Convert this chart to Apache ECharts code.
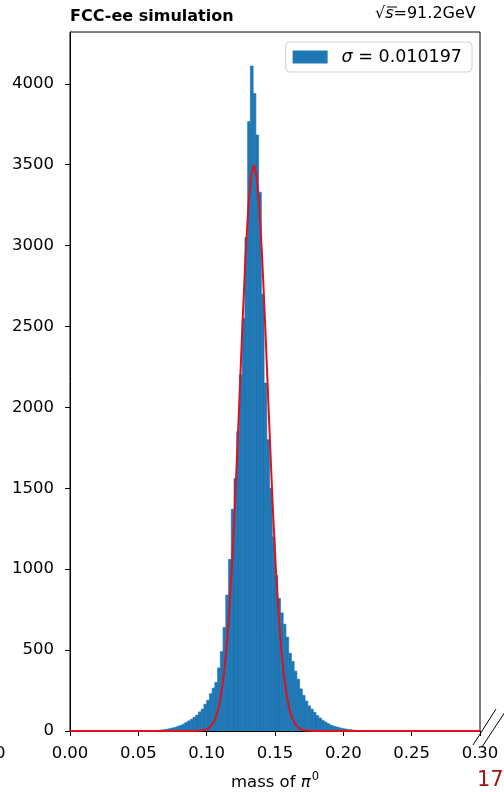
<!DOCTYPE html>
<html><head><meta charset="utf-8">
<script src="https://cdn.jsdelivr.net/npm/echarts@6/dist/echarts.min.js"></script>
<style>html,body{margin:0;padding:0;background:#fff}#c{width:504px;height:792px}</style>
</head><body><div id="c"></div>
<script>
// histogram bins (start of each bin) and counts
const binWidth = 0.002;
const binStarts = [0.060,0.062,0.064,0.066,0.068,0.070,0.072,0.074,0.076,0.078,
  0.080,0.082,0.084,0.086,0.088,0.090,0.092,0.094,0.096,0.098,
  0.100,0.102,0.104,0.106,0.108,0.110,0.112,0.114,0.116,0.118,
  0.120,0.122,0.124,0.126,0.128,0.130,0.132,0.134,0.136,0.138,
  0.140,0.142,0.144,0.146,0.148,0.150,0.152,0.154,0.156,0.158,
  0.160,0.162,0.164,0.166,0.168,0.170,0.172,0.174,0.176,0.178,
  0.180,0.182,0.184,0.186,0.188,0.190,0.192,0.194,0.196,0.198,
  0.200,0.202,0.204,0.206,0.208,0.210,0.212];
const binCounts = [2,3,4,6,8,11,14,18,22,28,
  34,42,52,62,72,85,98,118,135,165,
  190,230,265,300,390,490,640,840,1060,1370,
  1560,1850,2200,2550,3050,3766,4110,3940,3683,3330,
  2700,2150,1800,1500,1200,960,820,730,660,580,
  480,430,370,320,260,220,185,155,135,115,
  95,80,65,55,45,36,30,25,20,16,
  13,10,8,6,4,3,2];
// fitted curve points
const fitX = [0.000,0.0905,0.0925,0.0945,0.0965,0.0985,0.1005,0.1025,0.1045,0.1065,0.1085,
  0.1105,0.1125,0.1145,0.1165,0.1185,0.1205,0.1225,0.1245,0.1265,0.1285,0.1305,0.1325,
  0.1345,0.1365,0.1385,0.1405,0.1425,0.1445,0.1465,0.1485,0.1505,0.1525,0.1545,0.1565,
  0.1585,0.1605,0.1625,0.1645,0.1665,0.1685,0.1705,0.1725,0.1745,0.1765,0.1785,0.300];
const fitY = [0,0,1,2,3,7,13,25,46,81,136,
  219,342,511,737,1022,1364,1752,2164,2572,2943,3241,3433,
  3500,3433,3241,2943,2572,2164,1752,1364,1022,737,511,342,
  219,136,81,46,25,13,7,3,2,1,0,0];
const xTicks = [0,0.05,0.10,0.15,0.20,0.25,0.30];
const yTicks = [0,500,1000,1500,2000,2500,3000,3500,4000];
const histName = 'sigma';
const sigmaText = '0.010197';
const titleLeft = 'FCC-ee simulation';
const titleRight = '=91.2GeV';
const xName = 'mass of ';

const chart = echarts.init(document.getElementById('c'), null, {renderer:'canvas'});
const F = 'DejaVu Sans';
const histData = binStarts.map((s,i)=>[s, binCounts[i]]);
const fitData = fitX.map((x,i)=>[x, fitY[i]]);

chart.setOption({
  animation:false,
  backgroundColor:'#fff',
  grid:{left:70,right:24,top:32,bottom:61,outerBoundsMode:'none',containLabel:false,
    show:true,borderColor:'#000',borderWidth:1,backgroundColor:'transparent'},
  legend:{
    data:[histName], right:32, top:42, icon:'rect', itemWidth:35, itemHeight:13,
    itemGap:10, padding:[6,10,6,7], borderColor:'#d0d0d0', borderWidth:1, borderRadius:4,
    backgroundColor:'#fff',
    formatter:()=>'{i|σ} = ' + sigmaText,
    textStyle:{fontFamily:F,fontSize:17.5,color:'#000',padding:[0,0,0,9],
      rich:{i:{fontFamily:F,fontStyle:'italic',fontSize:17.5,color:'#000'}}}
  },
  xAxis:{
    type:'value', min:0, max:0.3, interval:0.05,
    name:'{a|'+xName+'}{p|π}{s|0}', nameLocation:'middle', nameGap:40,
    nameTextStyle:{rich:{a:{fontFamily:F,fontSize:16.5,color:'#000'},
      p:{fontFamily:F,fontStyle:'italic',fontSize:16.5,color:'#000'},
      s:{fontFamily:F,fontSize:11.5,color:'#000',verticalAlign:'bottom',padding:[0,0,11,1]}}},
    axisLine:{show:true,lineStyle:{color:'#000',width:1}},
    axisTick:{show:true,length:5,inside:false,lineStyle:{color:'#000'},customValues:xTicks},
    axisLabel:{fontFamily:F,fontSize:16.5,color:'#000',margin:14,customValues:xTicks,formatter:v=>v.toFixed(2)},
    splitLine:{show:false}
  },
  yAxis:{
    type:'value', min:0, max:4320, interval:500,
    axisLine:{show:true,lineStyle:{color:'#000',width:1}},
    axisTick:{show:true,length:5,inside:false,lineStyle:{color:'#000'},customValues:yTicks},
    axisLabel:{fontFamily:F,fontSize:16.5,color:'#000',margin:16,customValues:yTicks,formatter:v=>String(v)},
    splitLine:{show:false}
  },
  series:[
    {
      name:histName, type:'custom', data:histData, encode:{x:0,y:1}, clip:true,
      itemStyle:{color:'#1f77b4'},
      renderItem:(params,api)=>{
        const x0 = api.value(0), c = api.value(1);
        const p0 = api.coord([x0, c]);
        const p1 = api.coord([x0 + binWidth, 0]);
        return {type:'rect', shape:{x:p0[0], y:p0[1], width:p1[0]-p0[0], height:p1[1]-p0[1]},
          style:{fill:'#1f77b4',stroke:'#1f77b4',lineWidth:0.7}};
      },
      z:2
    },
    {
      name:'fit', type:'line', data:fitData, showSymbol:false, smooth:false,
      lineStyle:{color:'#e3101c',width:2}, z:3, clip:true
    }
  ],
  graphic:[
    {type:'text', left:70, top:9, style:{text:titleLeft, font:'bold 16px "DejaVu Sans"', fill:'#000'}},
    {type:'text', x:375, y:6, style:{text:'{r|√}{s|s}{n|'+titleRight+'}',
      rich:{r:{fontFamily:F,fontSize:16,fill:'#000'},s:{fontFamily:F,fontStyle:'italic',fontSize:16,fill:'#000'},n:{fontFamily:F,fontSize:16,fill:'#000'}}}},
    {type:'line', shape:{x1:387,y1:7,x2:397,y2:7}, style:{stroke:'#000',lineWidth:1}},
    {type:'line', shape:{x1:473,y1:745,x2:496,y2:709}, style:{stroke:'#000',lineWidth:1}},
    {type:'line', shape:{x1:482,y1:747,x2:505,y2:712}, style:{stroke:'#000',lineWidth:1}},
    {type:'text', x:-5, y:745, style:{text:'0', font:'16.5px "DejaVu Sans"', fill:'#000'}},
    {type:'text', x:477, y:770, style:{text:'17', font:'21px "DejaVu Sans"', fill:'#a31515'}}
  ]
});
</script></body></html>
